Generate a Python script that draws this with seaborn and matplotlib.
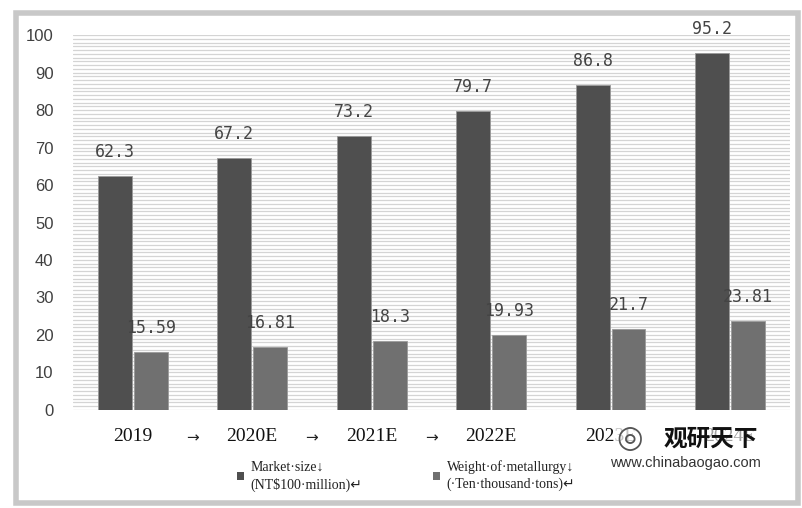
import matplotlib
matplotlib.use("Agg")
import matplotlib.pyplot as plt
import matplotlib.ticker as mticker
from matplotlib.patches import Rectangle
import pandas as pd
import seaborn as sns

# ── Dados ────────────────────────────────────────────────
anos = ["2019", "2020E", "2021E", "2022E", "2023E", "2024E"]
mercado = [62.3, 67.2, 73.2, 79.7, 86.8, 95.2]
peso = [15.59, 16.81, 18.3, 19.93, 21.7, 23.81]
series = ["Market·size↓\n(NT$100·million)↵", "Weight·of·metallurgy↓\n(·Ten·thousand·tons)↵"]
cores = ["#4f4f4f", "#707070"]

df = pd.DataFrame({
    "ano": anos * 2,
    "valor": mercado + peso,
    "serie": [series[0]] * len(anos) + [series[1]] * len(anos),
})

# ── Configuração visual ───────────────────────────────────
sns.set_theme(style="white")
fig = plt.figure(figsize=(8.02, 5.08), dpi=100)
ax = fig.add_axes([0.091, 0.193, 0.894, 0.738])

# moldura externa cinza
fig.patches.append(Rectangle((0.02, 0.01), 0.975, 0.965, transform=fig.transFigure,
                             fill=False, edgecolor="#c8c8c8", linewidth=4, zorder=0))

sns.barplot(data=df, x="ano", y="valor", hue="serie", palette=cores,
            width=0.6, gap=0.06, ax=ax, legend=False, zorder=3,
            edgecolor="#9a9a9a", linewidth=0.6)

# rótulos de valor
for cont in ax.containers:
    for barra in cont:
        h = barra.get_height()
        ax.text(barra.get_x() + barra.get_width() / 2, h + 4.0, f"{h:g}",
                ha="center", va="bottom", fontsize=12, color="#444444",
                family="DejaVu Sans Mono", zorder=5)

ax.set_ylim(0, 100)
ax.set_xlim(-0.5, len(anos) - 0.5)
ax.yaxis.set_major_locator(mticker.MultipleLocator(10))
ax.yaxis.set_minor_locator(mticker.MultipleLocator(1))
ax.grid(axis="y", which="both", color="#d4d4d4", linewidth=0.9, zorder=0)
ax.set_axisbelow(True)
for s in ax.spines.values():
    s.set_visible(False)
ax.set_xlabel("")
ax.set_ylabel("")
ax.tick_params(axis="y", labelsize=12, labelcolor="#404040", pad=14, length=0)
for t in ax.get_yticklabels():
    t.set_family("Liberation Sans")
ax.tick_params(axis="x", labelsize=14, labelcolor="#111111", pad=13, length=0)
for t in ax.get_xticklabels():
    t.set_family("Liberation Serif")

# setas entre os anos
for i in range(3):
    ax.text(i + 0.5, -7.4, "→", ha="center", va="center", fontsize=11,
            color="#222222", family="DejaVu Sans")

# legenda manual
for xf, nome, cor in [(0.295, series[0], cores[0]), (0.54, series[1], cores[1])]:
    fig.patches.append(Rectangle((xf, 0.055), 0.009, 0.016, transform=fig.transFigure,
                                 facecolor=cor, edgecolor="none"))
    fig.text(xf + 0.017, 0.063, nome, ha="left", va="center", fontsize=10,
             color="#222222", family=["Liberation Serif", "DejaVu Sans"], linespacing=1.35)

# marca d'água
fig.text(0.768, 0.137, "◎", fontsize=22, color="#555555", ha="left", va="center",
         family="DejaVu Sans",
         bbox=dict(facecolor="white", alpha=0.75, edgecolor="none", pad=1))
fig.text(0.828, 0.137, "观研天下", fontsize=17, fontweight="bold", color="#111111",
         ha="left", va="center", family=["Noto Sans CJK SC", "DejaVu Sans"],
         bbox=dict(facecolor="white", alpha=0.6, edgecolor="none", pad=1))
fig.text(0.76, 0.088, "www.chinabaogao.com", fontsize=10.5, color="#333333",
         ha="left", va="center", family="Liberation Sans")

plt.savefig("out.png", dpi=100)
